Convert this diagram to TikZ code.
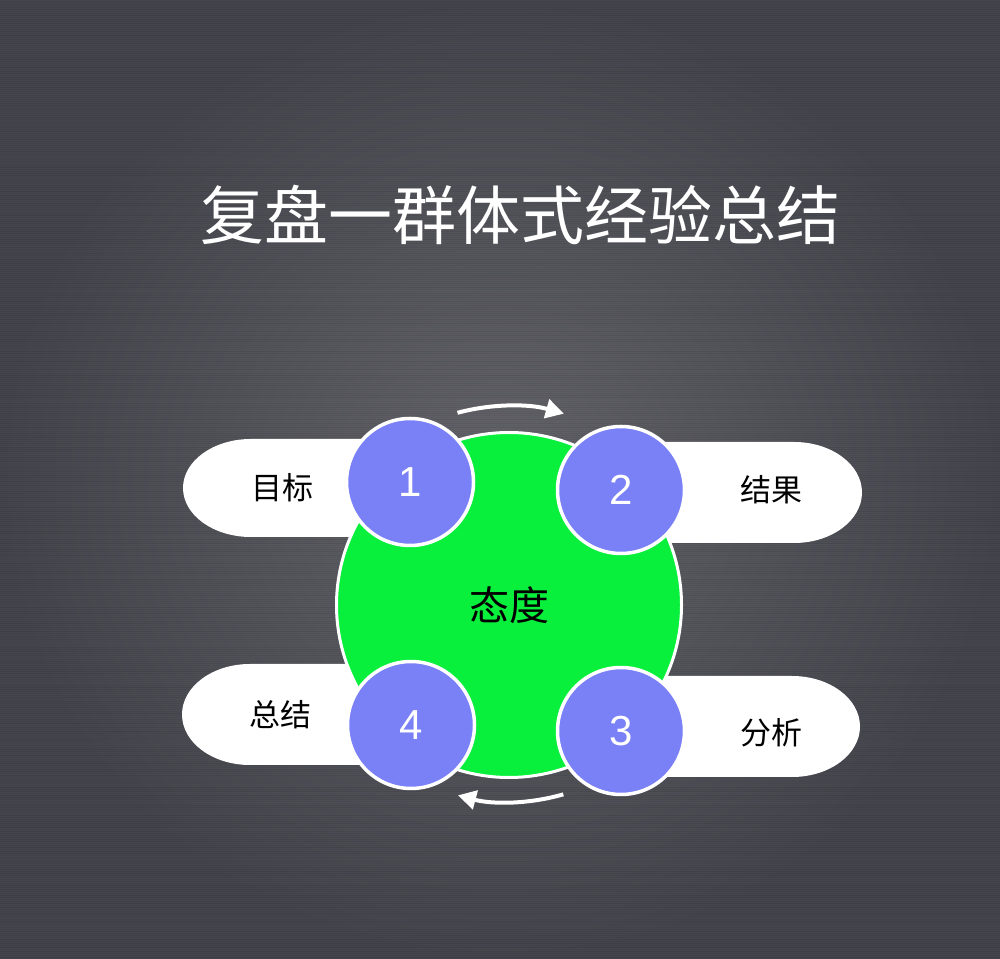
\documentclass[tikz,border=0pt]{standalone}
\usepackage{fontspec}
\setsansfont{Liberation Sans}
\newfontfamily\cjk{Noto Sans CJK SC}
\usetikzlibrary{arrows.meta}
\definecolor{bgmid}{RGB}{100,100,106}
\definecolor{bgedge}{RGB}{68,68,76}
\definecolor{attgreen}{RGB}{8,240,60}
\definecolor{stageblue}{RGB}{122,128,246}
\tikzset{
  stage/.style={circle, fill=stageblue, draw=white, line width=3.5pt, minimum size=127pt, inner sep=0pt, text=white, font=\sffamily\fontsize{42}{42}\selectfont},
  pill/.style={fill=white},
  tag/.style={font=\cjk\fontsize{31}{31}\selectfont, text=black},
  cyc/.style={draw=white, line width=4pt, -{Triangle[length=18pt,width=19pt]}}
}

\begin{document}
\begin{tikzpicture}[x=1pt,y=1pt]
			%%%%% BACKGROUND %%%%%
			\useasboundingbox (0,0) rectangle (1000,958);
			\shade[inner color=bgmid, outer color=bgedge] (0,0) rectangle (1000,958);
			\pgfmathsetseed{7}
			\foreach \i in {1,3,...,957} {
				\pgfmathsetmacro{\op}{0.02+0.07*rnd}
				\draw[black, opacity=\op, line width=0.8pt] (0,\i) -- (1000,\i);
			}
			
			\node[font=\cjk\fontsize{64}{64}\selectfont, text=white] (title) at (520,743) {复盘一群体式经验总结};
			
			%%%%% PILLS %%%%%
			\fill[pill] (440,519) -- (251,519) arc[start angle=90, end angle=270, x radius=68, y radius=49] -- (440,421) -- cycle;
			\fill[pill] (590,516) -- (794,516) arc[start angle=90, end angle=-90, x radius=68, y radius=50.5] -- (590,415) -- cycle;
			\fill[pill] (590,282) -- (792,282) arc[start angle=90, end angle=-90, x radius=68, y radius=50.5] -- (590,181) -- cycle;
			\fill[pill] (440,294) -- (250,294) arc[start angle=90, end angle=270, x radius=68, y radius=50.5] -- (440,193) -- cycle;
			
			%%%%% CIRCLES %%%%%
			\node[circle, fill=attgreen, draw=white, line width=3pt, minimum size=345pt, inner sep=0pt, font=\cjk\fontsize{40}{40}\selectfont] (att) at (509,353) {态度};
			
			\node[stage] (s1) at (410,476) {1};
			\node[stage] (s2) at (621,468) {2};
			\node[stage] (s3) at (621,227) {3};
			\node[stage] (s4) at (411,233) {4};
			
			\node[tag] (t1) at (282,470) {目标};
			\node[tag] (t2) at (771,468) {结果};
			\node[tag] (t3) at (771,225) {分析};
			\node[tag] (t4) at (280,243) {总结};
			
			%%%%% ARROWS %%%%%
			\draw[cyc] ([shift={(105:199)}]att.center) arc[start angle=105, end angle=74, radius=199];
			\draw[cyc] ([shift={(286:197)}]att.center) arc[start angle=286, end angle=255, radius=197];
		\end{tikzpicture}
\end{document}
